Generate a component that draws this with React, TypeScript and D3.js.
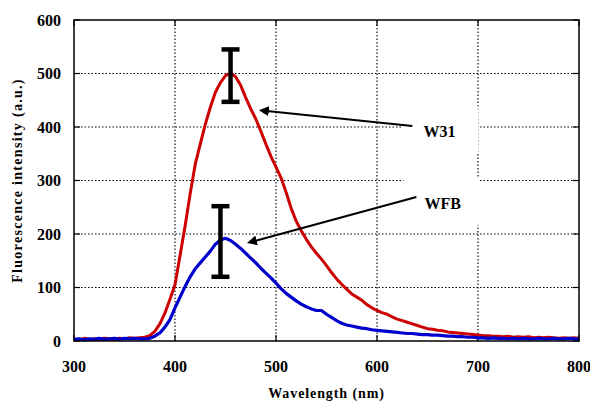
import React from "react";
import * as d3 from "d3";

const wavelengths: number[] = d3.range(300, 801, 5);

const w31: number[] = [
  4, 2, 5, 3, 4, 3, 5, 4, 3, 5, 4, 6, 5, 6, 7, 10, 18, 32, 52, 78,
  105, 160, 215, 275, 330, 368, 405, 437, 465, 483, 496, 501, 494, 478, 455, 434, 415, 392, 368, 345,
  325, 305, 278, 248, 224, 206, 190, 176, 164, 153, 141, 128, 116, 106, 97, 88, 82, 76, 68, 62,
  57, 53, 50, 45, 41, 38, 35, 32, 29, 26, 23, 22, 20, 19, 17, 16, 15, 14, 13, 12,
  11, 10, 10, 9, 9, 8, 9, 7, 8, 7, 8, 6, 7, 6, 7, 6, 5, 6, 5, 6, 5,
];

const wfb: number[] = [
  3, 4, 2, 4, 3, 5, 3, 4, 5, 3, 5, 4, 5, 4, 4, 5, 9, 15, 26, 40,
  62, 82, 102, 120, 135, 146, 157, 168, 181, 189, 192, 188, 181, 173, 164, 155, 146, 136, 127, 118,
  108, 98, 89, 82, 75, 69, 64, 60, 57, 57, 50, 44, 38, 33, 30, 28, 26, 24, 23, 21,
  20, 19, 18, 17, 16, 15, 14, 14, 13, 12, 12, 11, 11, 10, 9, 9, 8, 8, 7, 7,
  6, 6, 5, 6, 5, 5, 4, 5, 4, 5, 4, 4, 5, 4, 4, 5, 4, 4, 5, 4, 4,
];

const xTicks: number[] = [300, 400, 500, 600, 700, 800];
const yTicks: number[] = [0, 100, 200, 300, 400, 500, 600];

// error bars: [wavelength, low, high]
const errorBars: [number, number, number][] = [
  [455, 447, 545],
  [445, 120, 252],
];

// annotations: label, label position, arrow tail, arrow head (data coords)
const labels = ["W31", "WFB"];
const labelPos: [number, number][] = [
  [646, 381],
  [647, 247],
];
const arrowTail: [number, number][] = [
  [635, 402],
  [639, 269],
];
const arrowHead: [number, number][] = [
  [483, 430],
  [471, 187],
];

export default function App() {
  const W = 590;
  const H = 402;
  const m = { left: 74, right: 11, top: 20, bottom: 61 };
  const x = d3.scaleLinear().domain([300, 800]).range([m.left, W - m.right]);
  const y = d3.scaleLinear().domain([0, 600]).range([H - m.bottom, m.top]);

  const line = (vals: number[]) =>
    d3
      .line<number>()
      .x((_, i) => x(wavelengths[i]))
      .y((d) => y(d))(vals) || "";

  const font = "'Liberation Serif', 'DejaVu Serif', serif";
  const x0 = x(300), x1 = x(800), y0 = y(0), y1 = y(600);

  return (
    <svg width={W} height={H} style={{ position: "absolute", left: 0, top: 0, background: "#fff" }}>
      <defs>
        <marker id="ah" viewBox="0 0 10 10" refX="2" refY="5" markerWidth="5" markerHeight="5" orient="auto-start-reverse">
          <path d="M0,0 L10,5 L0,10 Z" fill="#000" />
        </marker>
      </defs>
      {/* grid */}
      {xTicks.slice(1, -1).map((t) => (
        <line key={"gx" + t} x1={x(t)} x2={x(t)} y1={y0} y2={y1} stroke="#000" strokeWidth={1.1} strokeDasharray="1.5,2" />
      ))}
      {yTicks.slice(1, -1).map((t) => (
        <line key={"gy" + t} x1={x0} x2={x1} y1={y(t)} y2={y(t)} stroke="#000" strokeWidth={1.1} strokeDasharray="1.5,2" />
      ))}
      {/* label boxes */}
      {labels.map((l, i) => (
        <rect key={"lb" + l} x={x(labelPos[i][0]) - 21} y={y(labelPos[i][1]) - 31} width={76} height={47} fill="#fff" />
      ))}
      {/* ticks inward */}
      {xTicks.map((t) => (
        <g key={"tx" + t}>
          <line x1={x(t)} x2={x(t)} y1={y0} y2={y0 - 6} stroke="#000" strokeWidth={1.2} />
          <line x1={x(t)} x2={x(t)} y1={y1} y2={y1 + 6} stroke="#000" strokeWidth={1.2} />
        </g>
      ))}
      {yTicks.map((t) => (
        <g key={"ty" + t}>
          <line x1={x0} x2={x0 + 6} y1={y(t)} y2={y(t)} stroke="#000" strokeWidth={1.2} />
          <line x1={x1} x2={x1 - 6} y1={y(t)} y2={y(t)} stroke="#000" strokeWidth={1.2} />
        </g>
      ))}
      {/* curves */}
      <path d={line(w31)} fill="none" stroke="#CC0000" strokeWidth={3} strokeLinejoin="round" />
      <path d={line(wfb)} fill="none" stroke="#0000CC" strokeWidth={3.2} strokeLinejoin="round" />
      {/* frame */}
      <rect x={x0} y={y1} width={x1 - x0} height={y0 - y1} fill="none" stroke="#000" strokeWidth={1.5} />
      {/* error bars */}
      {errorBars.map(([wl, lo, hi], i) => (
        <g key={"eb" + i} stroke="#000">
          <line x1={x(wl)} x2={x(wl)} y1={y(lo)} y2={y(hi)} strokeWidth={4.5} />
          <line x1={x(wl) - 9} x2={x(wl) + 9} y1={y(lo)} y2={y(lo)} strokeWidth={4.5} />
          <line x1={x(wl) - 9} x2={x(wl) + 9} y1={y(hi)} y2={y(hi)} strokeWidth={4.5} />
        </g>
      ))}
      {/* arrows */}
      {labels.map((l, i) => (
        <line
          key={"ar" + l}
          x1={x(arrowTail[i][0])}
          y1={y(arrowTail[i][1])}
          x2={x(arrowHead[i][0]) + 8}
          y2={y(arrowHead[i][1])}
          stroke="#000"
          strokeWidth={2}
          markerEnd="url(#ah)"
        />
      ))}
      {labels.map((l, i) => (
        <text key={"lt" + l} x={x(labelPos[i][0])} y={y(labelPos[i][1])} fontFamily={font} fontWeight="bold" fontSize={16} fill="#000">
          {l}
        </text>
      ))}
      {/* tick labels */}
      {xTicks.map((t) => (
        <text key={"xl" + t} x={x(t)} y={y0 + 31} textAnchor="middle" fontFamily={font} fontWeight="bold" fontSize={16}>
          {t}
        </text>
      ))}
      {yTicks.map((t) => (
        <text key={"yl" + t} x={x0 - 13} y={y(t) + 5.5} textAnchor="end" fontFamily={font} fontWeight="bold" fontSize={16}>
          {t}
        </text>
      ))}
      <text x={(x0 + x1) / 2} y={398} textAnchor="middle" fontFamily={font} fontWeight="bold" fontSize={14} letterSpacing={0.9}>
        Wavelength (nm)
      </text>
      <text
        transform={`translate(22,${(y0 + y1) / 2}) rotate(-90)`}
        textAnchor="middle"
        fontFamily={font}
        fontWeight="bold"
        fontSize={14}
        letterSpacing={1.3}
      >
        Fluorescence intensity (a.u.)
      </text>
    </svg>
  );
}
